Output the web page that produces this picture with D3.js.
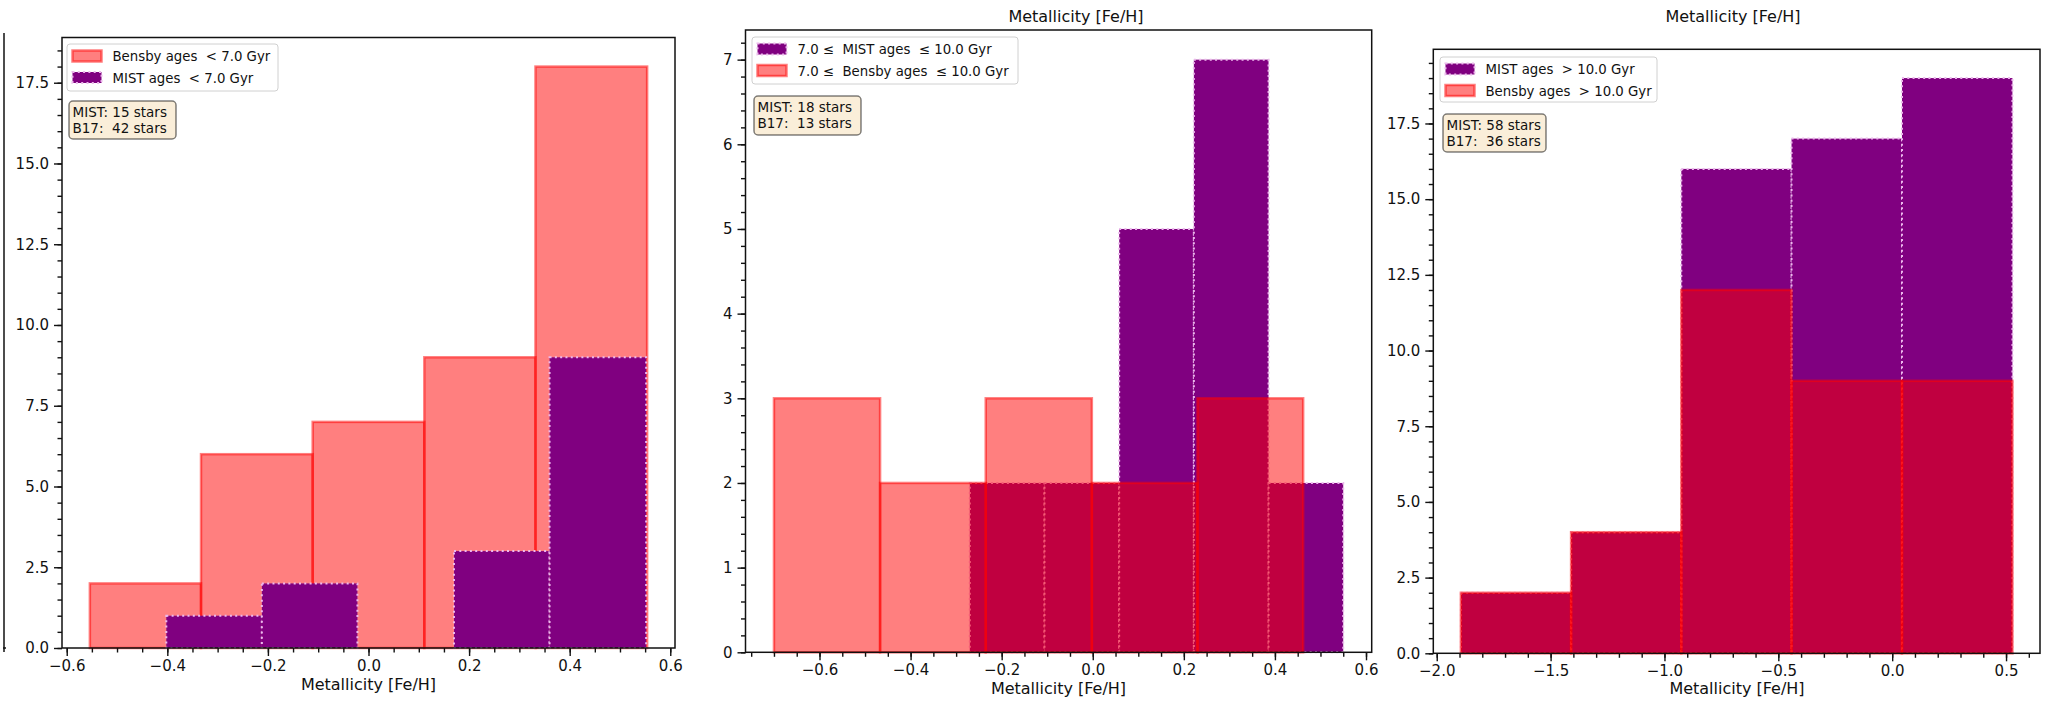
<!DOCTYPE html>
<html><head><meta charset="utf-8">
<script src="https://cdn.jsdelivr.net/npm/d3@7"></script>
<style>
body{margin:0;background:#fff}
svg{display:block}
text{font-family:"DejaVu Sans",sans-serif;white-space:pre;fill:#111}
</style>
</head><body>
<svg id="c" width="2048" height="704"></svg>
<script>
// ---------- DATA ----------
// Panel A: ages < 7.0 Gyr
const bensbyEdgesA = [-0.554, -0.333, -0.111, 0.111, 0.332, 0.554];
const bensbyCountsA = [2, 6, 7, 9, 18];
const mistEdgesA = [-0.402, -0.212, -0.022, 0.170, 0.360, 0.552];
const mistCountsA = [1, 2, 0, 3, 9];
// Panel B: 7.0 <= ages <= 10.0 Gyr
const mistEdgesB = [-0.270, -0.106, 0.058, 0.222, 0.386, 0.550];
const mistCountsB = [2, 2, 5, 7, 2];
const bensbyEdgesB = [-0.700, -0.467, -0.235, -0.002, 0.230, 0.462];
const bensbyCountsB = [3, 2, 3, 2, 3];
// Panel C: ages > 10.0 Gyr
const mistEdgesC = [-1.894, -1.410, -0.926, -0.442, 0.043, 0.528];
const mistCountsC = [2, 4, 16, 17, 19];
const bensbyEdgesC = [-1.894, -1.410, -0.926, -0.442, 0.043, 0.528];
const bensbyCountsC = [2, 4, 12, 9, 9];

// tick labels
const xTicksA = [-0.6, -0.4, -0.2, 0.0, 0.2, 0.4, 0.6];
const yTicksA = [0, 2.5, 5, 7.5, 10, 12.5, 15, 17.5];
const xTicksB = [-0.6, -0.4, -0.2, 0.0, 0.2, 0.4, 0.6];
const yTicksB = [0, 1, 2, 3, 4, 5, 6, 7];
const xTicksC = [-2.0, -1.5, -1.0, -0.5, 0.0, 0.5];
const yTicksC = [0, 2.5, 5, 7.5, 10, 12.5, 15, 17.5];

const legendA = ["Bensby ages  < 7.0 Gyr", "MIST ages  < 7.0 Gyr"];
const legendB = ["7.0 \u2264  MIST ages  \u2264 10.0 Gyr", "7.0 \u2264  Bensby ages  \u2264 10.0 Gyr"];
const legendC = ["MIST ages  > 10.0 Gyr", "Bensby ages  > 10.0 Gyr"];
const infoA = ["MIST: 15 stars", "B17:  42 stars"];
const infoB = ["MIST: 18 stars", "B17:  13 stars"];
const infoC = ["MIST: 58 stars", "B17:  36 stars"];
const xLabel = "Metallicity [Fe/H]";

// ---------- STYLES ----------
const styles = {
  bensby: {fill: "red", fillOpacity: 0.5, stroke: "red", strokeOpacity: 0.5, width: 2.5, dash: null},
  mist: {fill: "#800080", fillOpacity: 1, stroke: "#ECB8EC", strokeOpacity: 1, width: 2, dash: "2,3.3"}
};

function autoDomain(edgeLists) {
  const lo = d3.min(edgeLists, e => d3.min(e)), hi = d3.max(edgeLists, e => d3.max(e));
  const m = (hi - lo) * 0.05;
  return [lo - m, hi + m];
}

const panels = [
  {
    box: {l: 62, r: 675, t: 37.5, b: 648},
    series: [
      {edges: bensbyEdgesA, counts: bensbyCountsA, style: "bensby"},
      {edges: mistEdgesA, counts: mistCountsA, style: "mist"}
    ],
    legend: legendA, info: infoA,
    xTicks: xTicksA, yTicks: yTicksA, xMinor: 0.05, yMinor: 0.5,
    xFmt: d3.format(".1f"), yFmt: d3.format(".1f"),
    legBox: {x: 67, y: 44, w: 211, h: 47}, infoBox: {x: 69, y: 101, w: 107, h: 38},
    xLab: {x: 368.5, y: 690}, title: null
  },
  {
    box: {l: 745.5, r: 1371.7, t: 30, b: 652.3},
    series: [
      {edges: mistEdgesB, counts: mistCountsB, style: "mist"},
      {edges: bensbyEdgesB, counts: bensbyCountsB, style: "bensby"}
    ],
    legend: legendB, info: infoB,
    xTicks: xTicksB, yTicks: yTicksB, xMinor: 0.05, yMinor: 0.2,
    xFmt: d3.format(".1f"), yFmt: d3.format("d"),
    legBox: {x: 752, y: 37, w: 266, h: 47}, infoBox: {x: 754, y: 96, w: 107, h: 39},
    xLab: {x: 1058.5, y: 694}, title: {x: 1076, y: 22}
  },
  {
    box: {l: 1433.3, r: 2040, t: 49.3, b: 653.3},
    series: [
      {edges: mistEdgesC, counts: mistCountsC, style: "mist"},
      {edges: bensbyEdgesC, counts: bensbyCountsC, style: "bensby"}
    ],
    legend: legendC, info: infoC,
    xTicks: xTicksC, yTicks: yTicksC, xMinor: 0.1, yMinor: 0.5,
    xFmt: d3.format(".1f"), yFmt: d3.format(".1f"),
    legBox: {x: 1440, y: 57, w: 217, h: 45}, infoBox: {x: 1443, y: 114, w: 103, h: 38},
    xLab: {x: 1737, y: 694}, title: {x: 1733, y: 22}
  }
];

const svg = d3.select("#c");
svg.append("rect").attr("width", 2048).attr("height", 704).attr("fill", "#fff");

// leftover spine of neighbouring figure at far left
svg.append("line").attr("x1", 4).attr("x2", 4).attr("y1", 33).attr("y2", 652)
  .attr("stroke", "#111").attr("stroke-width", 1.5);
svg.append("line").attr("x1", 3).attr("x2", 6).attr("y1", 648).attr("y2", 648)
  .attr("stroke", "#111").attr("stroke-width", 1.5);

function applyStyle(sel, st) {
  sel.attr("fill", st.fill).attr("fill-opacity", st.fillOpacity)
    .attr("stroke", st.stroke).attr("stroke-opacity", st.strokeOpacity)
    .attr("stroke-width", st.width);
  if (st.dash) sel.attr("stroke-dasharray", st.dash);
  return sel;
}

panels.forEach(p => {
  const g = svg.append("g");
  const xDom = autoDomain(p.series.map(s => s.edges));
  const yMax = d3.max(p.series, s => d3.max(s.counts)) * 1.05;
  const x = d3.scaleLinear().domain(xDom).range([p.box.l, p.box.r]);
  const y = d3.scaleLinear().domain([0, yMax]).range([p.box.b, p.box.t]);

  // bars
  p.series.forEach(s => {
    const bins = s.counts.map((c, i) => ({x0: s.edges[i], x1: s.edges[i + 1], c}));
    const st = styles[s.style];
    applyStyle(g.append("g").selectAll("rect").data(bins.filter(d => d.c > 0)).join("rect")
      .attr("x", d => x(d.x0)).attr("width", d => x(d.x1) - x(d.x0))
      .attr("y", d => y(d.c)).attr("height", d => y(0) - y(d.c)), st);
  });

  // axes
  const minorX = d3.range(Math.ceil(xDom[0] / p.xMinor), Math.floor(xDom[1] / p.xMinor) + 1).map(k => +(k * p.xMinor).toFixed(4));
  const minorY = d3.range(0, Math.floor(yMax / p.yMinor) + 1).map(k => +(k * p.yMinor).toFixed(4));

  const axX = g.append("g").attr("transform", `translate(0,${p.box.b})`)
    .call(d3.axisBottom(x).tickValues(p.xTicks).tickFormat(p.xFmt).tickSize(8).tickPadding(4));
  const axXm = g.append("g").attr("transform", `translate(0,${p.box.b})`)
    .call(d3.axisBottom(x).tickValues(minorX).tickFormat("").tickSize(4.5));
  const axY = g.append("g").attr("transform", `translate(${p.box.l},0)`)
    .call(d3.axisLeft(y).tickValues(p.yTicks).tickFormat(p.yFmt).tickSize(8).tickPadding(5));
  const axYm = g.append("g").attr("transform", `translate(${p.box.l},0)`)
    .call(d3.axisLeft(y).tickValues(minorY).tickFormat("").tickSize(4.5));
  [axX, axXm, axY, axYm].forEach(a => {
    a.select(".domain").remove();
    a.selectAll(".tick line").attr("stroke", "#111").attr("stroke-width", 1.4);
    a.selectAll(".tick text").attr("font-size", 15).attr("fill", "#111")
      .attr("font-family", '"DejaVu Sans", sans-serif');
  });

  // spines
  g.append("rect").attr("x", p.box.l).attr("y", p.box.t)
    .attr("width", p.box.r - p.box.l).attr("height", p.box.b - p.box.t)
    .attr("fill", "none").attr("stroke", "#111").attr("stroke-width", 1.5);

  // x label
  g.append("text").attr("x", p.xLab.x).attr("y", p.xLab.y).attr("text-anchor", "middle")
    .attr("font-size", 16).text(xLabel);
  if (p.title) {
    g.append("text").attr("x", p.title.x).attr("y", p.title.y).attr("text-anchor", "middle")
      .attr("font-size", 16).text(xLabel);
  }

  // legend
  const lb = p.legBox;
  g.append("rect").attr("x", lb.x).attr("y", lb.y).attr("width", lb.w).attr("height", lb.h)
    .attr("rx", 3).attr("fill", "#fff").attr("fill-opacity", 0.8)
    .attr("stroke", "#d0d0d0").attr("stroke-width", 1);
  p.series.forEach((s, i) => {
    const cy = lb.y + 12 + i * 21.5;
    applyStyle(g.append("rect").attr("x", lb.x + 5.5).attr("y", cy - 5.5)
      .attr("width", 29).attr("height", 11), styles[s.style]);
    g.append("text").attr("x", lb.x + 45.5).attr("y", cy + 5)
      .attr("font-size", 13.3).text(p.legend[i]);
  });

  // info box
  const ib = p.infoBox;
  g.append("rect").attr("x", ib.x).attr("y", ib.y).attr("width", ib.w).attr("height", ib.h)
    .attr("rx", 4).attr("fill", "wheat").attr("fill-opacity", 0.5)
    .attr("stroke", "#000").attr("stroke-opacity", 0.5).attr("stroke-width", 1.5);
  p.info.forEach((t, i) => {
    g.append("text").attr("x", ib.x + 3.5).attr("y", ib.y + 15.5 + i * 16)
      .attr("font-size", 13.5).text(t);
  });
});
</script>
</body></html>
